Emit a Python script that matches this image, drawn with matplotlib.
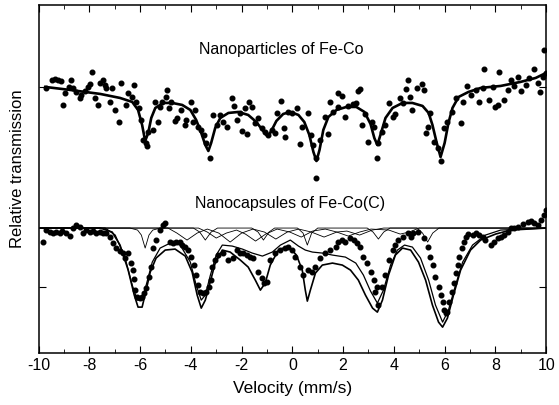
import numpy as np
import matplotlib
matplotlib.use("Agg")
import matplotlib.pyplot as plt

plt.rcParams["font.family"] = ["Liberation Sans", "DejaVu Sans"]
plt.rcParams["axes.unicode_minus"] = False

# --- Nanoparticles of Fe-Co (upper spectrum) ---
top_v = [-9.70, -9.47, -9.35, -9.23, -9.11, -9.03, -8.96, -8.80, -8.72, -8.64, -8.52, -8.36, -8.32,
         -8.17, -8.05, -7.97, -7.89, -7.77, -7.65, -7.57, -7.46, -7.38, -7.34, -7.18, -7.10, -6.98,
         -6.82, -6.75, -6.55, -6.47, -6.31, -6.23, -6.15, -6.04, -5.96, -5.88, -5.76, -5.72, -5.68,
         -5.48, -5.40, -5.29, -5.21, -5.13, -4.97, -4.93, -4.85, -4.77, -4.62, -4.54, -4.38, -4.22,
         -4.18, -3.98, -3.91, -3.83, -3.71, -3.59, -3.47, -3.39, -3.23, -3.12,
         -2.96, -2.84, -2.72, -2.56, -2.37, -2.29, -2.17, -2.05, -1.97, -1.78, -1.85, -1.70, -1.58,
         -1.46, -1.34, -1.18, -1.07, -0.95, -0.79, -0.67, -0.59, -0.43, -0.32, -0.28, -0.16, 0.00,
         0.20, 0.32, 0.39, 0.63, 0.75, 0.83, 0.95, 0.95, 1.10, 1.30, 1.42, 1.50, 1.62, 1.78, 1.81,
         1.97, 2.09, 2.21, 2.37, 2.49, 2.60, 2.68, 2.76, 2.88, 3.00, 3.12, 3.20, 3.35,
         3.39, 3.55, 3.67, 3.79, 3.95, 4.06, 4.26, 4.34, 4.46, 4.54, 4.62, 4.73, 4.93, 5.09, 5.17,
         5.25, 5.33, 5.44, 5.60, 5.72, 5.84, 5.96, 6.11, 6.31, 6.43, 6.63, 6.71, 6.90, 7.02, 7.22,
         7.34, 7.50, 7.57, 7.73, 7.89, 7.97, 8.09, 8.13, 8.32, 8.48, 8.60, 8.72, 8.88, 8.99, 9.19,
         9.31, 9.51, 9.67, 9.74, 9.86, 9.98, 9.90]
top_t = [265, 273, 274, 273, 272, 248, 260, 266, 273, 265, 261, 255, 258,
         262, 266, 269, 281, 255, 248, 270, 273, 268, 265, 251, 265, 243,
         231, 270, 248, 260, 256, 268, 251, 245, 233, 213, 210, 207, 221,
         223, 251, 231, 246, 251, 256, 263, 245, 251, 232, 235, 243, 228,
         233, 251, 231, 243, 226, 223, 218, 210, 195, 238,
         228, 238, 231, 226, 255, 247, 233, 240, 222, 219, 245, 251, 246,
         230, 235, 225, 221, 218, 223, 220, 240, 252, 225, 216, 241, 240,
         245, 209, 226, 240, 218, 208, 195, 175, 213, 236, 219, 251, 241, 246, 260,
         257, 236, 247, 249, 250, 262, 264, 228, 239, 211, 231, 226, 195,
         210, 221, 228, 250, 236, 239, 255, 250, 264, 273, 256, 243, 265, 269, 263,
         220, 226, 240, 211, 205, 192, 225, 231, 241, 255, 230, 251, 267, 258, 263,
         251, 265, 284, 253, 266, 246, 248, 281, 253, 263, 273, 267, 276, 262, 268,
         275, 284, 270, 261, 276, 280, 303]

top_fit_v = [-9.74, -8.76, -7.57, -6.79, -6.31, -6.08, -5.92, -5.80, -5.68, -5.56, -5.40, -5.09,
             -4.73, -4.34, -4.02, -3.79, -3.59, -3.43, -3.31, -3.20, -3.04, -2.84, -2.52, -2.13,
             -1.74, -1.42, -1.18, -1.03, -0.95, -0.83, -0.63, -0.36, -0.08, 0.24, 0.47, 0.67,
             0.83, 0.95, 1.07, 1.22, 1.42, 1.74, 2.13, 2.52, 2.84, 3.08, 3.23, 3.35, 3.47, 3.67,
             3.95, 4.34, 4.73, 5.13, 5.37, 5.52, 5.68, 5.84, 6.00, 6.15, 6.31, 6.55, 6.94, 7.42,
             8.21, 8.99, 9.59, 10.0]
top_fit_t = [266, 263, 259, 255, 251, 243, 228, 212, 220, 235, 245, 250,
             250, 248, 243, 233, 220, 208, 202, 210, 225, 235, 240, 241,
             238, 231, 223, 218, 217, 222, 232, 239, 241, 238, 231, 218,
             201, 192, 203, 223, 236, 243, 246, 246, 241, 229, 215, 208, 218, 235,
             245, 250, 250, 247, 240, 228, 211, 196, 210, 230, 245, 256, 261, 265,
             267, 271, 275, 280]

# --- Nanocapsules of Fe-Co(C) (lower spectrum) ---
bot_v = [-9.82, -9.70, -9.55, -9.43, -9.31, -9.15, -9.07, -8.92, -8.76, -8.64, -8.52, -8.36, -8.24,
         -8.13, -7.97, -7.85, -7.73, -7.57, -7.46, -7.34, -7.18, -7.06, -6.94, -6.79, -6.67, -6.59,
         -6.47, -6.35, -6.27, -6.23, -6.19, -6.11, -6.00, -5.92, -5.84, -5.76, -5.64, -5.56, -5.48,
         -5.37, -5.21, -5.09, -5.01, -4.81, -4.69, -4.58, -4.42, -4.34, -4.22, -4.10, -3.98, -3.87,
         -3.79, -3.71, -3.63, -3.51, -3.39, -3.27, -3.20,
         -3.16, -3.04, -2.92, -2.72, -2.52, -2.33, -2.17, -2.05, -1.93, -1.78, -1.66, -1.54, -1.34,
         -1.18, -1.10, -0.99, -0.87, -0.67, -0.47, -0.28, -0.16, 0.00, 0.12, 0.32, 0.43, 0.63, 0.79,
         0.91, 1.10, 1.30, 1.50, 1.70, 1.81, 1.97, 2.09, 2.29, 2.41, 2.56, 2.68, 2.80, 2.96, 3.08,
         3.20, 3.35,
         3.27, 3.39, 3.55, 3.67, 3.79, 3.95, 4.06, 4.18, 4.34, 4.54, 4.66, 4.77, 4.97, 5.17, 5.33,
         5.44, 5.56, 5.64, 5.76, 5.84, 5.92, 5.96, 6.04, 6.11, 6.19, 6.31, 6.35, 6.43, 6.51, 6.55,
         6.67, 6.75, 6.86, 6.94, 7.10, 7.22, 7.34, 7.50, 7.61, 7.81, 7.93, 8.09, 8.21, 8.32, 8.48,
         8.60, 8.72, 8.88, 9.07, 9.27, 9.39, 9.51, 9.67, 9.78, 9.90, 10.0]
bot_t = [111, 123, 121, 120, 121, 120, 122, 120, 117, 125, 128, 126, 120,
         123, 121, 122, 120, 121, 120, 120, 116, 110, 105, 102, 100, 95,
         100, 90, 83, 74, 63, 56, 55, 56, 60, 65, 76, 86, 105,
         113, 123, 128, 130, 111, 110, 111, 111, 108, 106, 103, 96, 88,
         78, 68, 61, 60, 61, 66, 73,
         86, 93, 98, 100, 93, 95, 103, 100, 100, 98, 96, 95, 81,
         75, 70, 71, 93, 100, 103, 105, 106, 103, 96, 86, 78, 83, 81,
         86, 95, 100, 103, 106, 111, 113, 111, 115, 113, 110, 106, 96, 90, 81,
         73, 66,
         61, 48, 66, 78, 93, 103, 108, 113, 116, 120, 116, 120, 121, 115, 106,
         96, 88, 76, 66, 58, 51, 43, 40, 41, 51, 61, 70, 80, 88, 96,
         105, 111, 116, 119, 118, 120, 118, 116, 113, 108, 111, 115, 116, 118, 121,
         125, 125, 126, 129, 131, 132, 130, 128, 133, 138, 143]

# total fit (outer envelope)
fit_a_v = [-9.94, -7.57, -7.10, -6.79, -6.47, -6.23, -6.08, -5.92, -5.76, -5.60, -5.37, -5.01,
           -4.62, -4.22, -3.95, -3.75, -3.59, -3.43, -3.27, -3.04, -2.76, -2.45, -2.05, -1.74,
           -1.46, -1.26, -1.07, -0.87, -0.55, -0.16, 0.16, 0.39, 0.51, 0.59, 0.71, 0.91, 1.18,
           1.58, 1.97, 2.29, 2.60, 2.88, 3.16, 3.35, 3.55, 3.79, 4.06, 4.34, 4.66, 4.97, 5.25,
           5.52, 5.76, 5.92, 6.11, 6.35, 6.63, 7.02, 7.42, 8.01, 8.60, 10.0]
fit_a_t = [125, 125, 121, 108, 83, 58, 46, 46, 63, 81, 95, 103,
           104, 97, 81, 58, 45, 53, 68, 90, 103, 101, 93, 86,
           73, 63, 70, 88, 103, 107, 98, 83, 63, 52, 63, 80, 88,
           90, 88, 83, 73, 58, 45, 41, 53, 78, 98, 105, 103, 91, 73,
           48, 31, 26, 35, 58, 83, 103, 113, 119, 123, 125]

# broad component (inner line)
fit_b_v = [-9.94, -7.38, -6.98, -6.59, -6.31, -6.11, -5.92, -5.76, -5.52, -5.21, -4.81, -4.42,
           -4.02, -3.79, -3.59, -3.43, -3.23, -3.00, -2.76, -2.37, -1.97, -1.58, -1.18, -0.79,
           -0.47, -0.08, 0.24, 0.51, 0.79, 1.18, 1.58, 2.09, 2.50, 2.80, 3.08, 3.35, 3.59, 3.87,
           4.14, 4.42, 4.73, 5.05, 5.37, 5.64, 5.92, 6.15, 6.43, 6.71, 7.10, 7.61, 8.21, 10.0]
fit_b_t = [125, 125, 118, 95, 68, 53, 53, 68, 91, 105, 110, 108,
           91, 68, 53, 58, 78, 98, 108, 107, 104, 100, 97, 101,
           108, 113, 107, 103, 101, 100, 98, 96, 90, 78, 62, 50, 63, 88,
           103, 108, 106, 95, 73, 48, 31, 43, 68, 91, 108, 118, 123, 125]

# narrow sextet
sub1_v = [-9.94, -6.40, -6.10, -5.95, -5.80, -5.65, -5.50, -5.20, -3.90, -3.65, -3.43, -3.20,
          -2.95, -1.60, -1.35, -1.14, -0.92, -0.70, 0.20, 0.42, 0.59, 0.76, 1.00, 2.95, 3.18,
          3.39, 3.60, 3.85, 4.90, 5.13, 5.33, 5.53, 5.78, 10.0]
sub1_t = [125, 125, 123, 118, 105, 118, 123, 125, 125, 121, 113, 121,
          125, 125, 121, 113, 121, 125, 125, 120, 108, 120, 125, 125, 121,
          114, 121, 125, 125, 120, 111, 120, 125, 125]

# broad weak sextets
sub2_v = [-9.94, -4.90, -4.55, -4.15, -3.75, -3.35, -2.90, -2.45, -2.00, -1.55, -1.10, -0.65,
          -0.20, 0.25, 0.75, 1.25, 1.75, 2.15, 2.65, 3.15, 3.60, 10.0]
sub2_t = [125, 125, 120, 113, 120, 124, 120, 111, 120, 124, 121, 114,
          121, 124, 121, 116, 121, 122, 118, 123, 125, 125]
sub3_v = [-9.94, -3.70, -3.35, -3.00, -2.60, -2.20, -1.85, -1.45, -1.05, -0.60, -0.10, 0.35,
          0.80, 1.30, 1.75, 2.20, 2.65, 3.10, 3.80, 4.25, 4.60, 5.00, 10.0]
sub3_t = [125, 125, 121, 115, 120, 123, 119, 112, 119, 124, 121, 116,
          122, 124, 121, 117, 121, 124, 123, 119, 121, 125, 125]

fig = plt.figure(figsize=(5.59, 4.05), dpi=100)
ax = fig.add_axes([0.069, 0.128, 0.908, 0.86])

ax.plot(top_fit_v, top_fit_t, color="black", lw=1.9)
ax.scatter(top_v, top_t, s=11, color="black", zorder=3)

for v, t in [(sub1_v, sub1_t), (sub2_v, sub2_t), (sub3_v, sub3_t)]:
    ax.plot(v, t, color="black", lw=0.6)
ax.plot(fit_b_v, fit_b_t, color="black", lw=0.9)
ax.plot(fit_a_v, fit_a_t, color="black", lw=1.2)
ax.scatter(bot_v, bot_t, s=11, color="black", zorder=3)

ax.text(-0.45, 303, "Nanoparticles of Fe-Co", ha="center", va="center", fontsize=11.5)
ax.text(-0.1, 150, "Nanocapsules of Fe-Co(C)", ha="center", va="center", fontsize=11.5)

ax.set_xlim(-10, 10)
ax.set_ylim(0, 348)
ax.set_xticks(np.arange(-10, 11, 2))
ax.set_xticks(np.arange(-9, 10, 2), minor=True)
ax.set_yticks([66, 266])
ax.set_yticklabels([])
ax.tick_params(which="both", direction="in", top=True, right=True, labelsize=11.5)
ax.tick_params(which="major", length=5)
ax.tick_params(which="minor", length=3)
for s in ax.spines.values():
    s.set_linewidth(1.1)
ax.set_xlabel("Velocity (mm/s)", fontsize=12.5, labelpad=6)
ax.set_ylabel("Relative transmission", fontsize=12)
ax.yaxis.set_label_coords(-0.026, 0.53)

fig.savefig("out.png", dpi=100)
